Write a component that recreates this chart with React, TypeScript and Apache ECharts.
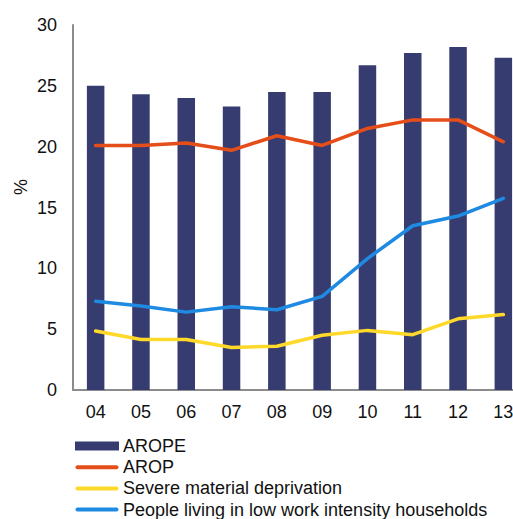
import React, { useEffect, useRef } from "react";
import * as echarts from "echarts";

const categories = ["04", "05", "06", "07", "08", "09", "10", "11", "12", "13"];
const arope = [25.0, 24.3, 24.0, 23.3, 24.5, 24.5, 26.7, 27.7, 28.2, 27.3];
const arop = [20.1, 20.1, 20.3, 19.7, 20.9, 20.1, 21.5, 22.2, 22.2, 20.4];
const severe = [4.85, 4.15, 4.15, 3.5, 3.6, 4.5, 4.9, 4.55, 5.85, 6.2];
const lowWork = [7.3, 6.9, 6.4, 6.85, 6.6, 7.7, 10.8, 13.5, 14.3, 15.75];
const yTicks = [0, 5, 10, 15, 20, 25, 30];

const FONT = "'Liberation Sans', Arial, sans-serif";
const LINE_ICON = "path://M0,0 M2,2.5 L41,2.5 A2,2 0 0 1 41,6.5 L2,6.5 A2,2 0 0 1 2,2.5 Z M43,9";

export default function App() {
  const ref = useRef<HTMLDivElement>(null);
  useEffect(() => {
    if (!ref.current) return;
    const chart = echarts.init(ref.current, null, { renderer: "svg" });
    const lineSeries = (name: string, data: number[], color: string) => ({
      name,
      type: "line",
      data,
      symbol: "none",
      showSymbol: false,
      lineStyle: { color, width: 3.5, cap: "round", join: "round" },
      itemStyle: { color },
      z: 3,
    });
    chart.setOption({
      animation: false,
      textStyle: { fontFamily: FONT },
      grid: { left: 73, top: 25, bottom: 150, right: 14, containLabel: false },
      graphic: [
        {
          type: "text",
          x: 20.5,
          y: 187,
          rotation: Math.PI / 2,
          style: {
            text: "%",
            fontSize: 18,
            fontFamily: FONT,
            fill: "#111",
            align: "center",
            verticalAlign: "middle",
          },
        },
      ],
      legend: {
        orient: "vertical",
        left: 75,
        top: 437,
        padding: 0,
        itemWidth: 44,
        itemHeight: 9,
        itemGap: 3.2,
        itemStyle: { borderWidth: 0 },
        textStyle: { fontSize: 18, color: "#111", fontFamily: FONT, padding: [0, 0, 0, -1] },
        data: [
          { name: "AROPE", icon: "rect" },
          { name: "AROP", icon: LINE_ICON },
          { name: "Severe material deprivation", icon: LINE_ICON },
          { name: "People living in low work intensity households", icon: LINE_ICON },
        ],
      },
      xAxis: {
        type: "category",
        data: categories,
        axisLine: { lineStyle: { color: "#8c8c8c", width: 2 } },
        axisTick: { show: false },
        axisLabel: { fontSize: 18, color: "#111", margin: 13, fontFamily: FONT },
      },
      yAxis: {
        type: "value",
        min: yTicks[0],
        max: yTicks[yTicks.length - 1],
        interval: 5,
        axisLine: { show: true, lineStyle: { color: "#8c8c8c", width: 2 } },
        axisTick: { show: false },
        splitLine: { show: false },
        axisLabel: { fontSize: 18, color: "#111", margin: 16, fontFamily: FONT },
      },
      series: [
        {
          name: "AROPE",
          type: "bar",
          data: arope,
          barWidth: 17.5,
          itemStyle: { color: "#363c70" },
          z: 2,
        },
        lineSeries("AROP", arop, "#e64e19"),
        lineSeries("Severe material deprivation", severe, "#ffd92a"),
        lineSeries("People living in low work intensity households", lowWork, "#1f8ae2"),
      ],
    });
    return () => chart.dispose();
  }, []);
  return (
    <div style={{ position: "fixed", left: 0, top: 0, width: 513, height: 519, overflow: "hidden", background: "#fff" }}>
      <div ref={ref} style={{ width: 540, height: 540 }} />
    </div>
  );
}
